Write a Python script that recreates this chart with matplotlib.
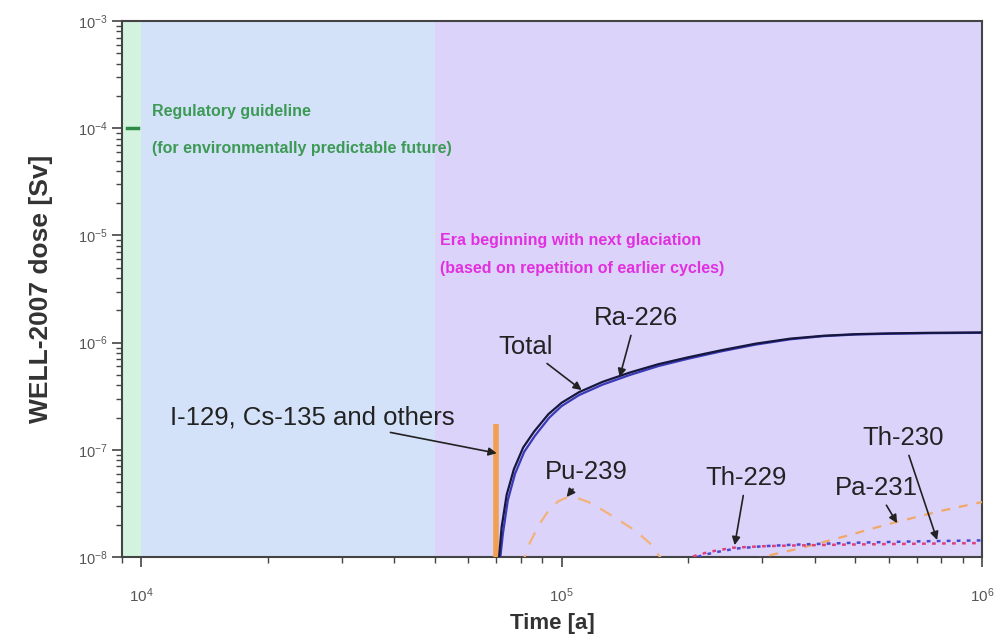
# libraries
import matplotlib
matplotlib.use("Agg")
import matplotlib.pyplot as plt
from matplotlib.ticker import LogLocator, NullFormatter

plt.rcParams['font.family'] = ['Liberation Sans', 'DejaVu Sans']

# Data (time in years, dose in Sv)
total_t = [7.1e4, 7.2e4, 7.4e4, 7.7e4, 8.1e4, 8.6e4, 9.3e4, 1.0e5, 1.1e5, 1.25e5, 1.45e5,
           1.7e5, 2.0e5, 2.4e5, 2.9e5, 3.5e5, 4.2e5, 5.0e5, 6.0e5, 7.5e5, 1.0e6]
total_d = [1.0e-8, 1.9e-8, 3.8e-8, 6.6e-8, 1.05e-7, 1.48e-7, 2.15e-7, 2.75e-7, 3.45e-7, 4.3e-7, 5.25e-7,
           6.3e-7, 7.3e-7, 8.5e-7, 9.8e-7, 1.09e-6, 1.16e-6, 1.2e-6, 1.22e-6, 1.235e-6, 1.245e-6]

ra226_t = [7.15e4, 7.25e4, 7.45e4, 7.75e4, 8.15e4, 8.65e4, 9.35e4, 1.0e5, 1.1e5, 1.25e5, 1.45e5,
           1.7e5, 2.0e5, 2.4e5, 2.9e5, 3.5e5, 4.2e5, 5.0e5, 6.0e5, 7.5e5, 1.0e6]
ra226_d = [1.0e-8, 1.65e-8, 3.4e-8, 6.0e-8, 9.6e-8, 1.36e-7, 2.0e-7, 2.56e-7, 3.24e-7, 4.05e-7, 4.98e-7,
           6.05e-7, 7.08e-7, 8.3e-7, 9.6e-7, 1.075e-6, 1.15e-6, 1.19e-6, 1.21e-6, 1.225e-6, 1.235e-6]

# I-129, Cs-135 and others: a narrow spike at ~70 ka
others_t = [7.0e4, 7.0e4]
others_d = [1.0e-9, 1.75e-7]

pu239_t = [8.0e4, 8.4e4, 8.8e4, 9.3e4, 9.8e4, 1.03e5, 1.09e5, 1.16e5, 1.25e5, 1.36e5, 1.5e5, 1.62e5, 1.75e5]
pu239_d = [8.0e-9, 1.35e-8, 1.95e-8, 2.7e-8, 3.3e-8, 3.6e-8, 3.55e-8, 3.25e-8, 2.75e-8, 2.25e-8, 1.75e-8,
           1.35e-8, 9.0e-9]

th229_t = [1.95e5, 2.1e5, 2.25e5, 2.55e5, 3.0e5, 3.5e5, 5.0e5, 7.0e5, 1.0e6]
th229_d = [9.5e-9, 1.04e-8, 1.12e-8, 1.22e-8, 1.26e-8, 1.28e-8, 1.31e-8, 1.33e-8, 1.35e-8]

th230_t = [2.0e5, 2.15e5, 2.3e5, 2.6e5, 3.0e5, 3.5e5, 5.0e5, 7.0e5, 1.0e6]
th230_d = [9.5e-9, 1.03e-8, 1.1e-8, 1.2e-8, 1.26e-8, 1.3e-8, 1.36e-8, 1.4e-8, 1.43e-8]

pa231_t = [2.6e5, 3.0e5, 3.6e5, 4.2e5, 4.83e5, 5.5e5, 6.25e5, 8.0e5, 1.0e6]
pa231_d = [8.0e-9, 1.0e-8, 1.18e-8, 1.38e-8, 1.6e-8, 1.85e-8, 2.12e-8, 2.7e-8, 3.26e-8]

# Time periods shown as background bands
era_edges = [9.0e3, 1.0e4, 5.0e4, 1.0e6]
era_colors = ['#d3f3df', '#d4e2f9', '#dcd3fa']

guideline = 1e-4

# Set up figure
fig = plt.figure(figsize=(9.98, 6.41), dpi=100)
ax = fig.add_axes([0.1222, 0.131, 0.8618, 0.8361])
ax.set_xscale('log')
ax.set_yscale('log')
ax.set_xlim(era_edges[0], era_edges[-1])
ax.set_ylim(1e-8, 1e-3)

for i in range(len(era_colors)):
    ax.axvspan(era_edges[i], era_edges[i + 1], color=era_colors[i], lw=0, zorder=0)

# Regulatory guideline marker
ax.plot([9.26e3, 9.84e3], [guideline, guideline], color='#2f8a45', lw=2.5, zorder=3)

# Curves
ax.plot(others_t, others_d, color='#f0a050', lw=4, solid_capstyle='butt', zorder=4)
ax.plot(pu239_t, pu239_d, color='#f2b27a', lw=1.6, dashes=(6, 5), zorder=3)
ax.plot(pa231_t, pa231_d, color='#f0a868', lw=1.6, dashes=(4, 4), zorder=3)
ax.plot(th229_t, th229_d, color='#e0407a', lw=1.8, dashes=(1.5, 2.5), zorder=3)
ax.plot(th230_t, th230_d, color='#4a48d0', lw=1.8, dashes=(1.5, 2.5), zorder=3)
ax.plot(ra226_t, ra226_d, color='#3a3ab8', lw=1.6, zorder=5)
ax.plot(total_t, total_d, color='#16163e', lw=1.6, zorder=6)

# Region text
ax.text(1.062e4, 1.42e-4, 'Regulatory guideline', color='#3c9a55', fontsize=11.5,
        fontweight='bold', va='center', ha='left')
ax.text(1.062e4, 6.53e-5, '(for environmentally predictable future)', color='#3c9a55',
        fontsize=11.5, fontweight='bold', va='center', ha='left')
ax.text(5.13e4, 9.06e-6, 'Era beginning with next glaciation', color='#e030e0',
        fontsize=11.5, fontweight='bold', va='center', ha='left')
ax.text(5.13e4, 4.97e-6, '(based on repetition of earlier cycles)', color='#e030e0',
        fontsize=11.5, fontweight='bold', va='center', ha='left')

# Curve labels with arrows
arrow = dict(arrowstyle='-|>', color='#222222', lw=1.2, mutation_scale=12, shrinkA=2, shrinkB=0)
labels = [
    ('Total', (8.21e4, 9.1e-7), (1.116e5, 3.61e-7)),
    ('Ra-226', (1.50e5, 1.70e-6), (1.374e5, 4.78e-7)),
    ('I-129, Cs-135 and others', (2.55e4, 2.02e-7), (7.01e4, 9.3e-8)),
    ('Pu-239', (1.147e5, 6.2e-8), (1.028e5, 3.63e-8)),
    ('Th-229', (2.75e5, 5.46e-8), (2.58e5, 1.29e-8)),
    ('Pa-231', (5.6e5, 4.4e-8), (6.28e5, 2.07e-8)),
    ('Th-230', (6.49e5, 1.29e-7), (7.82e5, 1.44e-8)),
]
for text, pos, tip in labels:
    ax.annotate(text, xy=tip, xytext=pos, fontsize=18.5, color='#222222',
                ha='center', va='center', arrowprops=arrow, zorder=7)

# Axes styling
for side in ax.spines:
    ax.spines[side].set_color('#444444')
    ax.spines[side].set_linewidth(1.5)
ax.yaxis.set_major_locator(LogLocator(base=10, numticks=10))
ax.yaxis.set_minor_locator(LogLocator(base=10, subs=range(2, 10), numticks=20))
ax.xaxis.set_minor_formatter(NullFormatter())
ax.yaxis.set_minor_formatter(NullFormatter())
ax.tick_params(which='major', direction='out', length=7, width=1.2, color='#444444',
               labelsize=10.5, labelcolor='#555555')
ax.tick_params(which='minor', direction='out', length=4, width=1, color='#444444')
ax.tick_params(axis='x', which='major', labelsize=11, pad=14)

ax.set_xlabel('Time [a]', fontsize=16, fontweight='bold', color='#333333', labelpad=6)
ax.set_ylabel('WELL-2007 dose [Sv]', fontsize=19, fontweight='bold', color='#333333', labelpad=18)

fig.savefig('out.png', dpi=100)
